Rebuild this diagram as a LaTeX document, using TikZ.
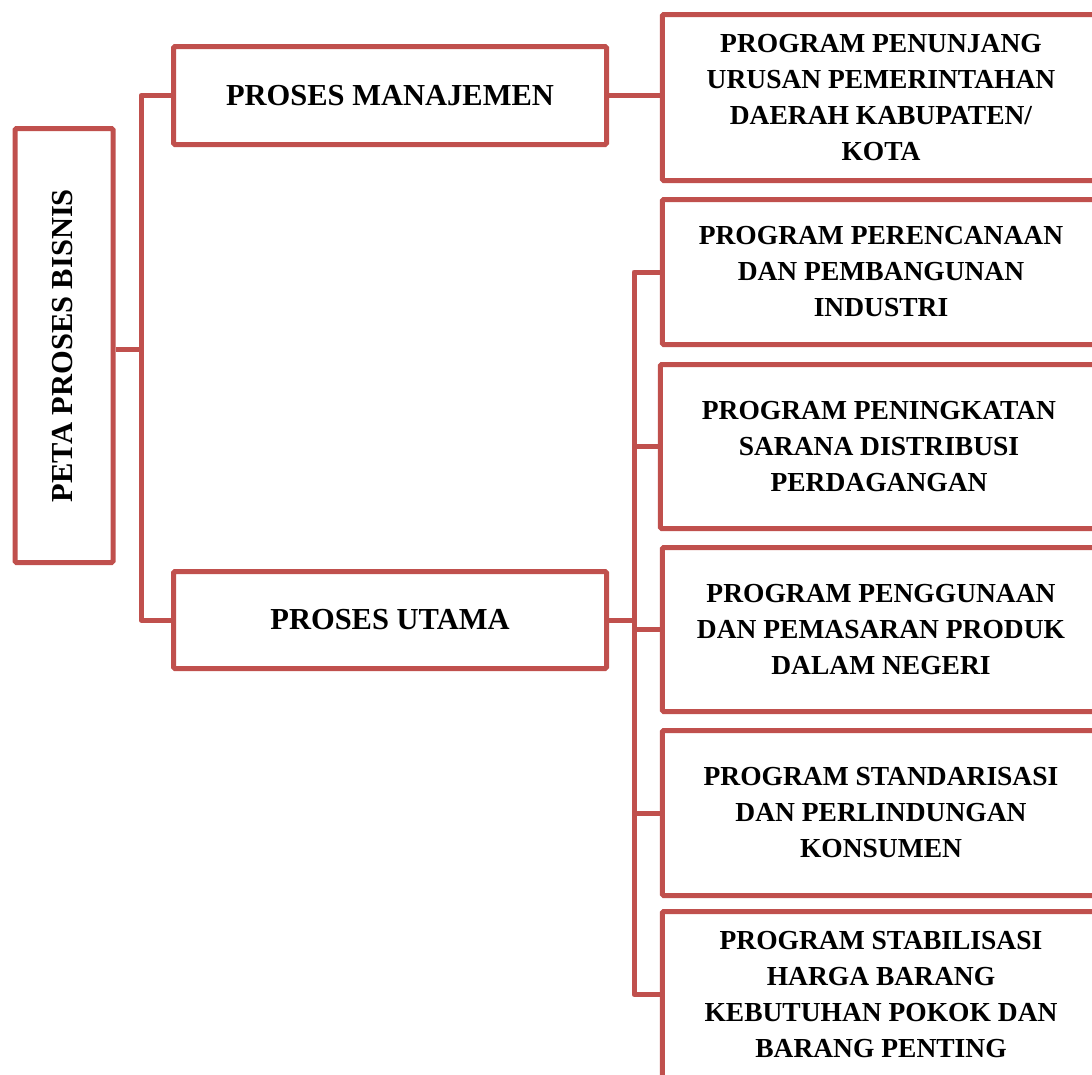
\documentclass[tikz,border=0pt]{standalone}
\usepackage{fontspec}
\setmainfont{Liberation Serif}
\definecolor{boxred}{HTML}{C0504D}
\begin{document}
\begin{tikzpicture}[x=1pt,y=-1pt,
  every node/.style={font=\fontsize{27.5}{36}\selectfont\bfseries},
  big/.style={font=\fontsize{30.5}{36}\selectfont\bfseries},
  pbox/.style={draw=boxred,line width=5pt,rounded corners=1.5pt,fill=white,align=center,inner sep=0pt},
  link/.style={draw=boxred,line width=5pt,line join=round}]
\useasboundingbox (0,0) rectangle (1092,1074);
\clip (0,0) rectangle (1092,1074);
% left column
\node[pbox,minimum width=98pt,minimum height=434pt] (peta) at (64,345.5) {};
\node[big,rotate=90] (petat) at (63,345.5) {PETA PROSES BISNIS};
\node[pbox,big,minimum width=433pt,minimum height=98pt] (manaj) at (390,95.5) {PROSES MANAJEMEN};
\node[pbox,big,minimum width=433pt,minimum height=97pt] (utama) at (390,620) {PROSES UTAMA};
% right column
\node[pbox,minimum width=437.5pt,minimum height=166pt] (b1) at (881,97.5) {PROGRAM PENUNJANG\\URUSAN PEMERINTAHAN\\DAERAH KABUPATEN/\\KOTA};
\node[pbox,minimum width=437.5pt,minimum height=145pt] (b2) at (881,272) {PROGRAM PERENCANAAN\\DAN PEMBANGUNAN\\INDUSTRI};
\node[pbox,minimum width=437.5pt,minimum height=164pt] (b3) at (879,446.5) {PROGRAM PENINGKATAN\\SARANA DISTRIBUSI\\PERDAGANGAN};
\node[pbox,minimum width=437.5pt,minimum height=164pt] (b4) at (881,629.5) {PROGRAM PENGGUNAAN\\DAN PEMASARAN PRODUK\\DALAM NEGERI};
\node[pbox,minimum width=437.5pt,minimum height=165pt] (b5) at (881,813) {PROGRAM STANDARISASI\\DAN PERLINDUNGAN\\KONSUMEN};
\node[pbox,minimum width=437.5pt,minimum height=166pt] (b6) at (881,994.5) {PROGRAM STABILISASI\\HARGA BARANG\\KEBUTUHAN POKOK DAN\\BARANG PENTING};
% connectors
\coordinate (j1) at (141,349);
\draw[link] (peta.east |- j1) -- (j1);
\draw[link] (j1) |- (manaj.west);
\draw[link] (j1) |- (utama.west);
\draw[link] (manaj.east) -- (manaj.east -| b1.west);
\coordinate (j2) at (634,620);
\draw[link] (utama.east) -- (j2);
\draw[link] (j2) |- (b2.west);
\draw[link] (j2) |- (b3.west);
\draw[link] (j2) |- (b4.west);
\draw[link] (j2) |- (b5.west);
\draw[link] (j2) |- (b6.west);
\end{tikzpicture}
\end{document}
